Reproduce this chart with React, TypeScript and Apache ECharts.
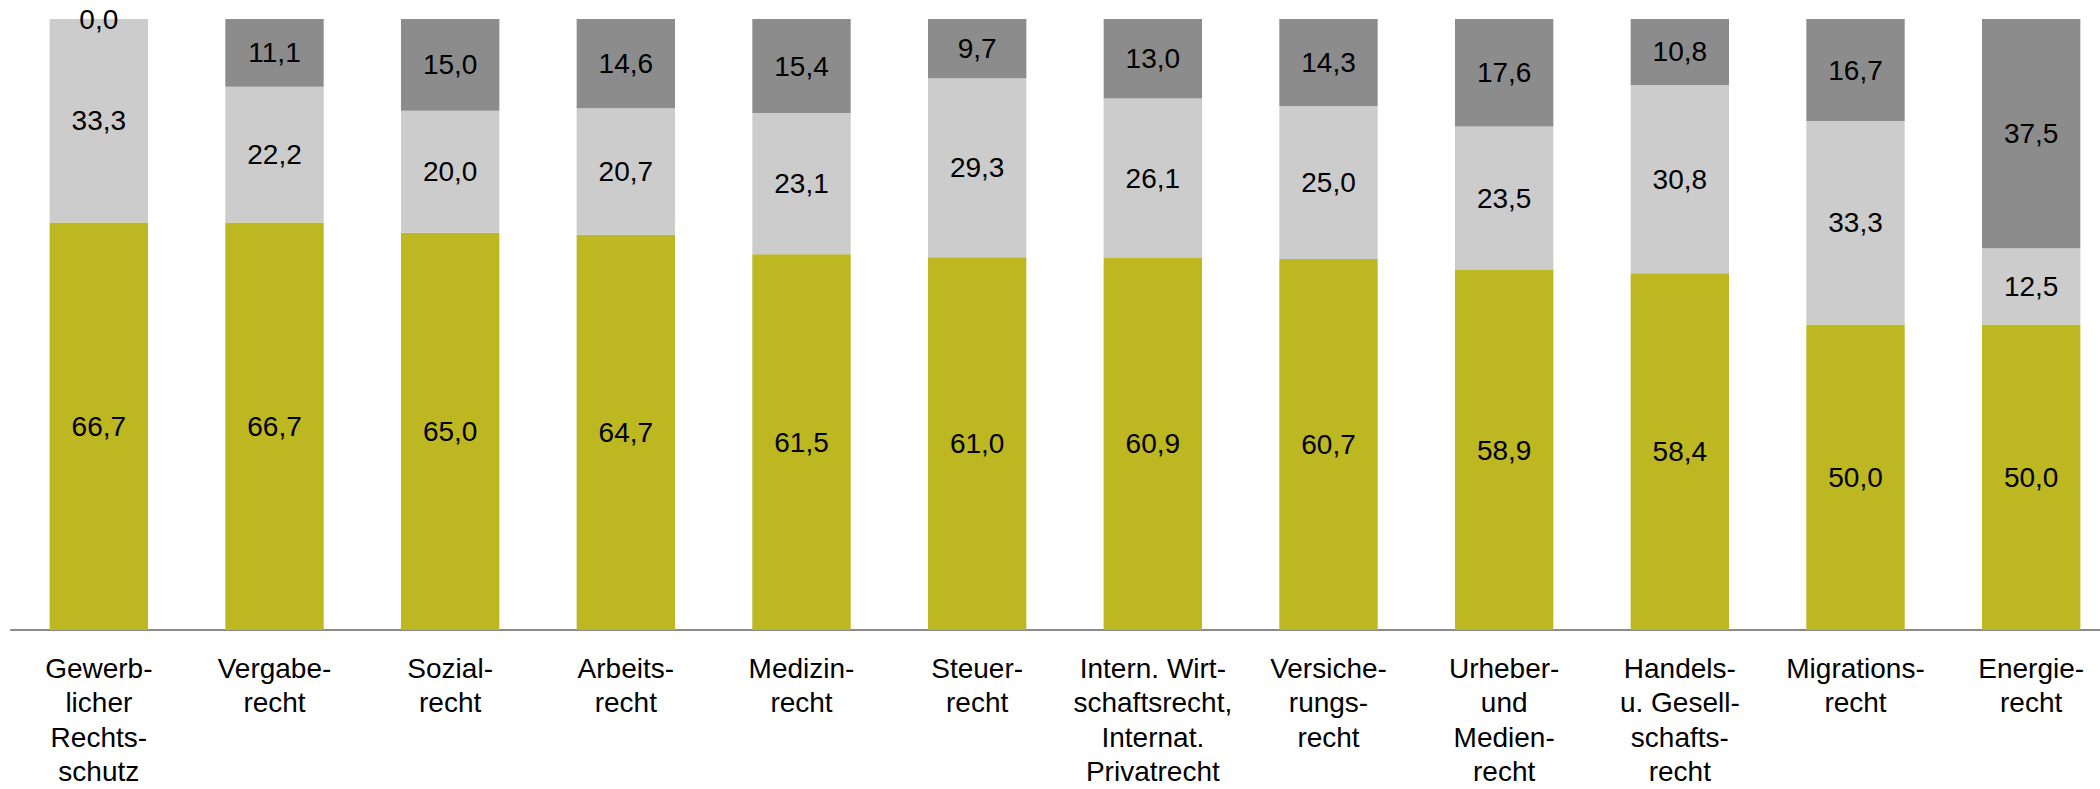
import React, { useEffect, useRef } from "react";
import * as echarts from "echarts";

const categories = [
  "Gewerb-\nlicher\nRechts-\nschutz",
  "Vergabe-\nrecht",
  "Sozial-\nrecht",
  "Arbeits-\nrecht",
  "Medizin-\nrecht",
  "Steuer-\nrecht",
  "Intern. Wirt-\nschaftsrecht,\nInternat.\nPrivatrecht",
  "Versiche-\nrungs-\nrecht",
  "Urheber-\nund\nMedien-\nrecht",
  "Handels-\nu. Gesell-\nschafts-\nrecht",
  "Migrations-\nrecht",
  "Energie-\nrecht",
];

const bottomValues = [66.7, 66.7, 65.0, 64.7, 61.5, 61.0, 60.9, 60.7, 58.9, 58.4, 50.0, 50.0];
const middleValues = [33.3, 22.2, 20.0, 20.7, 23.1, 29.3, 26.1, 25.0, 23.5, 30.8, 33.3, 12.5];
const topValues = [0.0, 11.1, 15.0, 14.6, 15.4, 9.7, 13.0, 14.3, 17.6, 10.8, 16.7, 37.5];

const colors = ["#BDB721", "#CCCCCC", "#8C8C8C"];

export default function App() {
  const ref = useRef<HTMLDivElement>(null);
  useEffect(() => {
    document.body.style.margin = "0";
    document.body.style.overflow = "hidden";
    const chart = echarts.init(ref.current!, null, { renderer: "svg" });
    const fmt = (p: any) => Number(p.value).toFixed(1).replace(".", ",");
    const labelCfg = {
      show: true,
      position: "inside",
      formatter: fmt,
      color: "#000",
      fontFamily: "Liberation Sans, Arial, sans-serif",
      fontSize: 28,
    };
    const mk = (name: string, data: number[], color: string) => ({
      name,
      type: "bar",
      stack: "total",
      data,
      barCategoryGap: "44%",
      itemStyle: { color },
      label: labelCfg,
      emphasis: { disabled: true },
    });
    chart.setOption({
      animation: false,
      grid: { left: 11, top: 19, right: 1, bottom: 158 },
      xAxis: {
        type: "category",
        data: categories,
        axisLine: { lineStyle: { color: "#8A8A8A", width: 2 } },
        axisTick: { show: false },
        axisLabel: {
          interval: 0,
          color: "#000",
          fontFamily: "Liberation Sans Narrow, Arial Narrow, Liberation Sans, sans-serif",
          fontSize: 28,
          lineHeight: 34.5,
          margin: 21,
          verticalAlign: "top",
        },
      },
      yAxis: {
        type: "value",
        min: 0,
        max: 100,
        show: false,
        splitLine: { show: false },
      },
      series: [
        mk("bottom", bottomValues, colors[0]),
        mk("middle", middleValues, colors[1]),
        mk("top", topValues, colors[2]),
      ],
    });
    return () => chart.dispose();
  }, []);
  return (
    <div
      ref={ref}
      style={{ position: "fixed", left: 0, top: 0, width: 2120, height: 789, background: "#fff" }}
    />
  );
}
